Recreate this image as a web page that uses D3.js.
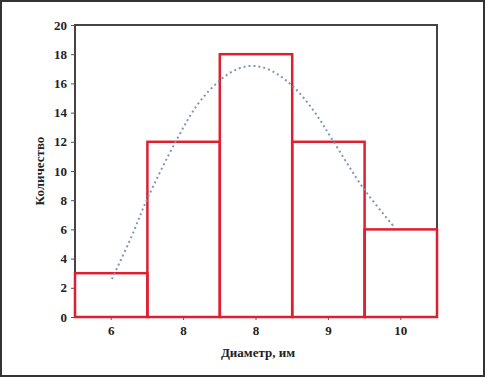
<!DOCTYPE html>
<html>
<head>
<meta charset="utf-8">
<script src="https://d3js.org/d3.v7.min.js"></script>
<title>Диаметр</title>
<style>
body {
  margin: 0;
  padding: 0;
  background: #fff;
}
svg text {
  font-family: "Liberation Serif", "DejaVu Serif", serif;
  fill: #222;
}
</style>
</head>
<body>
<script>

// bins as printed on the axis (the label 8 appears twice in the source)
var binLabels = ["6", "8", "8", "9", "10"];
var counts = [3, 12, 18, 12, 6];
var yTicks = [0, 2, 4, 6, 8, 10, 12, 14, 16, 18, 20];

// fitted curve: x in bin units (0..5), y as count
var curveX = [0.51, 0.78, 0.99, 1.40, 1.70, 2.00, 2.25, 2.46, 2.70, 3.01, 3.30, 3.56, 4.00, 4.42];
var curveY = [2.6, 5.5, 8.0, 12.1, 14.6, 16.2, 17.0, 17.2, 16.9, 15.8, 14.1, 12.1, 8.7, 6.1];

var W = 485, H = 377;
var margin = {top: 25, right: 48, bottom: 60, left: 75};
var w = W - margin.left - margin.right,
    h = H - margin.top - margin.bottom;

var svg = d3.select("body").append("svg")
    .attr("width", W)
    .attr("height", H);

// outer frame of the picture
svg.append("rect")
    .attr("x", 1).attr("y", 1)
    .attr("width", W - 2).attr("height", H - 2)
    .attr("fill", "#fff")
    .attr("stroke", "#333")
    .attr("stroke-width", 2);

var g = svg.append("g")
    .attr("transform", "translate(" + margin.left + "," + margin.top + ")");

var x = d3.scaleBand()
    .domain(d3.range(binLabels.length))
    .range([0, w])
    .padding(0);

var xLin = d3.scaleLinear()
    .domain([0, binLabels.length])
    .range([0, w]);

var y = d3.scaleLinear()
    .domain([0, 20])
    .range([h, 0]);

// plot frame
g.append("rect")
    .attr("width", w)
    .attr("height", h)
    .attr("fill", "none")
    .attr("stroke", "#444")
    .attr("stroke-width", 2);

// y axis
var yAxis = g.append("g")
    .call(d3.axisLeft(y).tickValues(yTicks).tickSize(4).tickPadding(4));
yAxis.select(".domain").remove();
yAxis.selectAll("line").attr("stroke", "#555");
yAxis.selectAll("text")
    .style("font-size", "13px")
    .style("font-weight", "bold");

// x axis
var xAxis = g.append("g")
    .attr("transform", "translate(0," + h + ")")
    .call(d3.axisBottom(x).tickFormat(function(i) { return binLabels[i]; }).tickSize(3).tickPadding(6));
xAxis.select(".domain").remove();
xAxis.selectAll("line").attr("stroke", "#555");
xAxis.selectAll("text")
    .style("font-size", "13px")
    .style("font-weight", "bold");

// histogram bars
g.selectAll(".bar")
    .data(counts)
  .enter().append("rect")
    .attr("class", "bar")
    .attr("x", function(d, i) { return x(i); })
    .attr("y", function(d) { return y(d); })
    .attr("width", x.bandwidth())
    .attr("height", function(d) { return h - y(d); })
    .attr("fill", "none")
    .attr("stroke", "#dd2030")
    .attr("stroke-width", 2.5);

// dotted curve
var pts = curveX.map(function(v, i) { return [v, curveY[i]]; });
var line = d3.line()
    .x(function(d) { return xLin(d[0]); })
    .y(function(d) { return y(d[1]); })
    .curve(d3.curveCatmullRom);

g.append("path")
    .datum(pts)
    .attr("d", line)
    .attr("fill", "none")
    .attr("stroke", "#7f97b8")
    .attr("stroke-width", 2)
    .attr("stroke-dasharray", "2,3");

// axis titles
g.append("text")
    .attr("x", w / 2 + 2)
    .attr("y", h + 40)
    .attr("text-anchor", "middle")
    .style("font-size", "13px")
    .style("font-weight", "bold")
    .text("Диаметр, им");

g.append("text")
    .attr("transform", "rotate(-90)")
    .attr("x", -h / 2)
    .attr("y", -31)
    .attr("text-anchor", "middle")
    .style("font-size", "13px")
    .style("font-weight", "bold")
    .text("Количество");

</script>
</body>
</html>
